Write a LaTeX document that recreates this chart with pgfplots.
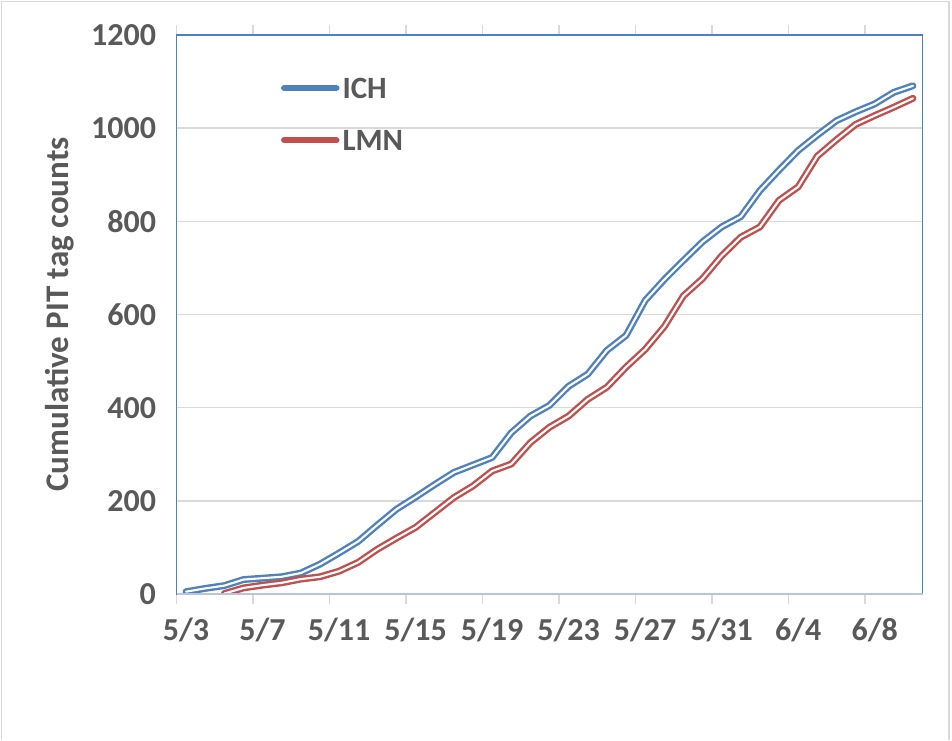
\documentclass[border=0pt]{standalone}
\usepackage{fontspec}
\setmainfont{Carlito}
\usepackage{pgfplots}
\pgfplotsset{compat=1.18}
\definecolor{ichblue}{HTML}{4F81BD}
\definecolor{lmnred}{HTML}{C0504D}
\definecolor{txtgray}{HTML}{595959}
\definecolor{gridgray}{HTML}{D9D9D9}
\definecolor{xaxisgray}{HTML}{B7C4D9}

\pgfplotstableread{
d v
0 5
1 12
2 18
3 31
4 34
5 37
6 45
7 64
8 88
9 113
10 148
11 182
12 208
13 235
14 261
15 277
16 293
17 346
18 382
19 405
20 446
21 472
22 523
23 555
24 630
25 675
26 716
27 756
28 788
29 810
30 866
31 910
32 952
33 985
34 1016
35 1035
36 1052
37 1077
38 1091
}\ichdata

\pgfplotstableread{
d v
2 1
3 13
4 19
5 24
6 32
7 37
8 49
9 68
10 96
11 120
12 143
13 175
14 207
15 232
16 264
17 279
18 325
19 358
20 382
21 418
22 444
23 487
24 525
25 574
26 640
27 677
28 726
29 766
30 788
31 845
32 874
33 940
34 975
35 1008
36 1027
37 1045
38 1064
}\lmndata

\begin{document}
\begin{tikzpicture}[x=1pt,y=1pt]
\path[use as bounding box] (0,0) rectangle (952,740);
\draw[gridgray, line width=1.3pt] (1.7,0) -- (1.7,738.3) -- (949,738.3) -- (949,0);
\begin{axis}[
  at={(176.5pt,146pt)}, anchor=south west,
  scale only axis, width=746pt, height=559pt,
  xmin=-0.5, xmax=38.5, ymin=0, ymax=1200,
  ytick={0,200,...,1200},
  ymajorgrids, grid style={gridgray, line width=1.5pt},
  xtick={-0.5,3.5,...,35.5},
  xticklabels={5/3,5/7,5/11,5/15,5/19,5/23,5/27,5/31,6/4,6/8},
  tick align=outside,
  major tick length=10pt,
  xtick style={draw=gridgray, line width=1.3pt},
  ytick style={draw=none},
  axis line style={draw=ichblue, line width=1.3pt},
  /pgf/number format/assume math mode=true,
  /pgf/number format/1000 sep={},
  tick label style={font=\fontsize{32}{38}\selectfont\bfseries, text=txtgray},
  yticklabel style={xshift=-7pt},
  xticklabel style={xshift=9.56pt, yshift=-11pt},
  ylabel={Cumulative PIT tag counts},
  ylabel style={font=\fontsize{33}{40}\selectfont\bfseries, text=txtgray, at={(axis description cs:-0.157,0.5)}, anchor=center},
  legend style={draw=none, fill=none, at={(axis description cs:0.1401,0.9234)}, anchor=north west, inner sep=0pt, outer sep=0pt, row sep=32pt, column sep=3pt, font=\fontsize{31}{37}\selectfont\bfseries, text=txtgray, nodes={inner sep=0pt, text depth=0pt}},
  legend cell align=left,
  after end axis/.code={\draw[xaxisgray, line width=1.3pt] (rel axis cs:0,0) -- (rel axis cs:1,0);},
]
\addplot[ichblue, line width=2.4pt, double=white, double distance=2.1pt, line join=round, line cap=round, forget plot] table[x=d, y=v] {\ichdata};
\addplot[lmnred, line width=2.4pt, double=white, double distance=2.1pt, line join=round, line cap=round, forget plot] table[x=d, y=v] {\lmndata};
\addlegendimage{legend image code/.code={\draw[ichblue, line width=6.5pt, line cap=round] (0pt,0pt) -- (52pt,0pt);}}
\addlegendentry{ICH}
\addlegendimage{legend image code/.code={\draw[lmnred, line width=6.5pt, line cap=round] (0pt,0pt) -- (52pt,0pt);}}
\addlegendentry{LMN}
\end{axis}
\end{tikzpicture}
\end{document}
